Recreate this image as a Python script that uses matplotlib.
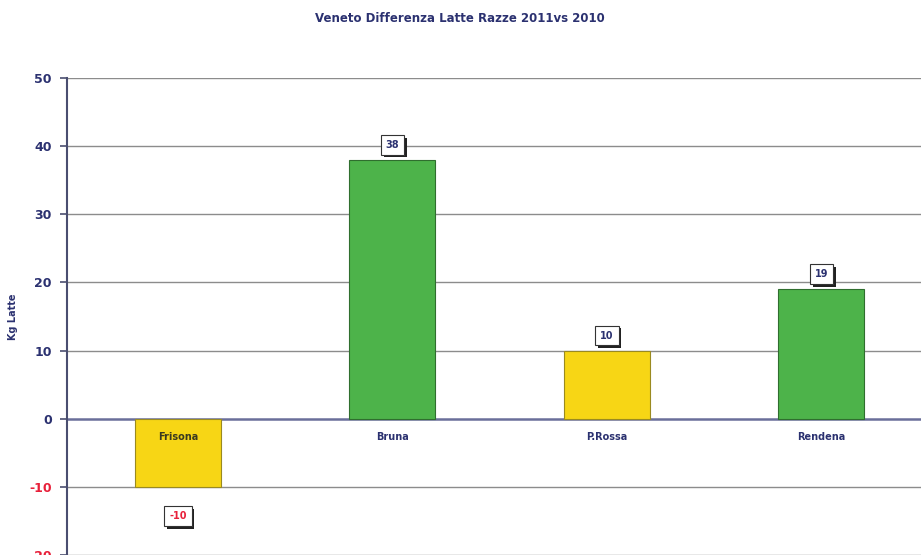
import matplotlib
matplotlib.use("Agg")
import matplotlib.pyplot as plt
import matplotlib.patheffects as pe

categories = ["Frisona", "Bruna", "P.Rossa", "Rendena"]
values = [-10, 38, 10, 19]
bar_colors = ["#F7D615", "#4DB34A", "#F7D615", "#4DB34A"]
edge_colors = ["#9A8A20", "#2F6E2E", "#9A8A20", "#2F6E2E"]
yticks = [-20, -10, 0, 10, 20, 30, 40, 50]
title = "Veneto Differenza Latte Razze 2011vs 2010"
ylabel = "Kg Latte"

navy = "#2B3170"
red = "#E8203A"

fig = plt.figure(figsize=(9.21, 5.55), dpi=100)
W, H = 921, 555
x0 = -0.517
ax = fig.add_axes([67 / W, 0, (3.5 - x0) * 214.5 / W, (555 - 78) / H])
ax.set_xlim(x0, 3.5)
ax.set_ylim(-20, 50)

for y in yticks:
    if y == 0:
        continue
    ax.axhline(y, color="#8C8C8C", lw=1.0, zorder=1)
ax.axhline(0, color="#6A6F9A", lw=1.8, zorder=1)

x = list(range(len(categories)))
ax.bar(x, values, width=0.4, color=bar_colors, edgecolor=edge_colors, lw=0.8, zorder=3)

ax.set_yticks(yticks)
ax.set_yticklabels([str(v) for v in yticks], fontweight="bold", fontsize=9)
for lbl, v in zip(ax.get_yticklabels(), yticks):
    lbl.set_color(red if v < 0 else navy)
ax.tick_params(axis="y", length=5, width=1.2, color="#4A4E70", pad=6)
ax.set_xticks([])
for s in ["top", "right", "bottom"]:
    ax.spines[s].set_visible(False)
ax.spines["left"].set_color("#4A4E70")
ax.spines["left"].set_linewidth(1.5)

ax.set_ylabel(ylabel, fontsize=7, fontweight="bold", color=navy, labelpad=8)

for i, (c, v) in enumerate(zip(categories, values)):
    ax.text(i, -2.7, c, ha="center", va="center", fontsize=7, fontweight="bold",
            color="#3A3A20" if v < 0 else navy, zorder=5)
    if v >= 0:
        ypos = v + 2.2
        col = navy
    else:
        ypos = v - 4.3
        col = red
    t = ax.text(i, ypos, str(v), ha="center", va="center", fontsize=7, fontweight="bold",
                color=col, zorder=6,
                bbox=dict(boxstyle="square,pad=0.5", fc="white", ec="#333333", lw=0.8))
    t.get_bbox_patch().set_path_effects([
        pe.SimplePatchShadow(offset=(2, -2), shadow_rgbFace="#222222", alpha=1.0),
        pe.Normal(),
    ])

fig.text(460 / W, 1 - 18 / H, title, ha="center", va="center", fontsize=8.5,
         fontweight="bold", color=navy)

fig.savefig("out.png", dpi=100)
